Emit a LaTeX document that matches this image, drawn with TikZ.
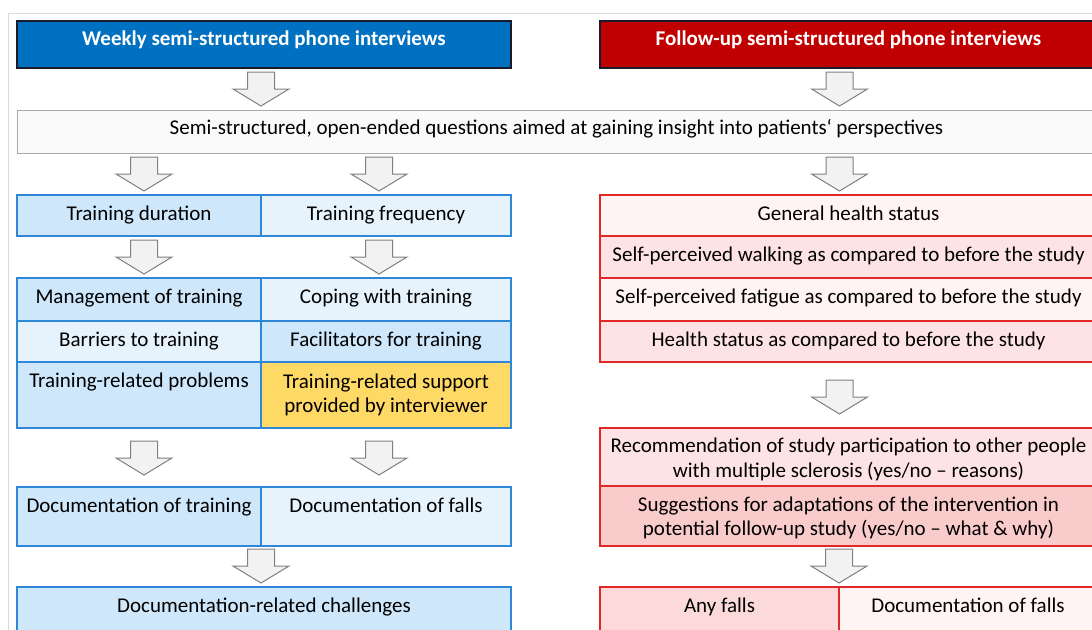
\documentclass[tikz,border=0pt]{standalone}
\usepackage{fontspec}
\setmainfont{Carlito}
\usetikzlibrary{calc}

\definecolor{hdblue}{HTML}{0070C0}
\definecolor{hdred}{HTML}{C00000}
\definecolor{hdline}{HTML}{1A1A2A}
\definecolor{blueln}{HTML}{2F87D8}
\definecolor{bA}{HTML}{CFE7FA}
\definecolor{bB}{HTML}{E6F3FD}
\definecolor{yel}{HTML}{FFD966}
\definecolor{redln}{HTML}{E02828}
\definecolor{rA}{HTML}{FFF3F3}
\definecolor{rB}{HTML}{FDE3E3}
\definecolor{rC}{HTML}{F9CBCB}
\definecolor{rD}{HTML}{FCDADA}
\definecolor{semiln}{HTML}{ABABAB}
\definecolor{semifill}{HTML}{FAFAFA}
\definecolor{arrowln}{HTML}{808080}
\definecolor{arrowfill}{HTML}{F2F2F2}
\definecolor{framec}{HTML}{DADADA}

% one rectangular cell; #9 is the drop from its top edge to the last baseline
\newcommand\mkcell[9]{%
  \node[#1, fill=#7, minimum width={(#5)-(#3)}, minimum height={(#6)-(#4)}] (#2) at (#3,#4) {};
  \node[txt] (#2-t) at ($(#2.north)+(0,#9)$) {#8};}

\begin{document}
\begin{tikzpicture}[x=1pt,y=-1pt,
  txt/.style={font=\fontsize{21}{24.5}\selectfont, text=black, inner sep=0pt, align=center, anchor=base},
  hdtxt/.style={txt, font=\fontsize{21}{24.5}\selectfont\bfseries, text=white},
  cell/.style={draw, line width=1.2pt, anchor=north west, inner sep=0pt, outer sep=0pt},
  bcell/.style={cell, draw=blueln},
  rcell/.style={cell, draw=redln},
  hcell/.style={cell, draw=hdline, line width=1.4pt},
  scell/.style={cell, draw=semiln, line width=1pt},
  arrowst/.style={draw=arrowln, fill=arrowfill, line width=1pt, line join=miter},
  pics/blockdown/.style={code={%
    \draw[arrowst] (-13.5,-17) -- (13.5,-17) -- (13.5,0) -- (28,0) -- (0,17)
      -- (-28,0) -- (-13.5,0) -- cycle;}}]
\useasboundingbox (0,0) rectangle (1092,629);
\clip (0,0) rectangle (1092,629);
\fill[white] (0,0) rectangle (1092,629);

% outer frame
\draw[framec, line width=1pt] (8.5,700) -- (8.5,13.5) -- (1200,13.5);

% headers
\mkcell{hcell}{whead}{17}{21}{511}{68}{hdblue}{}{25}
\node[hdtxt] (whead-l) at ($(whead.north)+(0,24.5)$) {Weekly semi-structured phone interviews};
\mkcell{hcell}{fhead}{600}{21}{1097}{68}{hdred}{}{25}
\node[hdtxt] (fhead-l) at ($(fhead.north)+(0,24.5)$) {Follow-up semi-structured phone interviews};

% shared question box
\mkcell{scell}{semi}{17}{110}{1100}{153}{semifill}{}{25}
\node[txt] (semi-l) at (556.5,134.5) {Semi-structured, open-ended questions aimed at gaining insight into patients‘ perspectives};

% weekly interviews
\mkcell{bcell}{dur}{17}{195}{261}{236}{bA}{Training duration}{25}
\mkcell{bcell}{freq}{261}{195}{511}{236}{bB}{Training frequency}{25}
\mkcell{bcell}{mgmt}{17}{278}{261}{321}{bA}{Management of training}{25}
\mkcell{bcell}{coping}{261}{278}{511}{321}{bB}{Coping with training}{25}
\mkcell{bcell}{barr}{17}{321}{261}{362}{bB}{Barriers to training}{25}
\mkcell{bcell}{facil}{261}{321}{511}{362}{bA}{Facilitators for training}{25}
\mkcell{bcell}{prob}{17}{362}{261}{428}{bA}{Training-related problems}{25.5}
\mkcell{bcell}{supp}{261}{362}{511}{428}{yel}{Training-related support\\provided by interviewer}{50.5}
\mkcell{bcell}{docT}{17}{487}{261}{546}{bA}{Documentation of training}{25.5}
\mkcell{bcell}{docF}{261}{487}{511}{546}{bB}{Documentation of falls}{25.5}
\mkcell{bcell}{docC}{17}{587}{511}{660}{bA}{Documentation-related challenges}{25}

% follow-up interviews
\mkcell{rcell}{genh}{600}{195}{1097}{236}{rA}{General health status}{25}
\mkcell{rcell}{walk}{600}{236}{1097}{278}{rB}{Self-perceived walking as compared to before the study}{25}
\mkcell{rcell}{fatig}{600}{278}{1097}{321}{rA}{Self-perceived fatigue as compared to before the study}{25}
\mkcell{rcell}{hstat}{600}{321}{1097}{362}{rB}{Health status as compared to before the study}{25}
\mkcell{rcell}{recom}{600}{428}{1097}{486}{rB}{Recommendation of study participation to other people\\with multiple sclerosis (yes/no – reasons)}{49}
\mkcell{rcell}{sugg}{600}{486}{1097}{546}{rC}{Suggestions for adaptations of the intervention in\\potential follow-up study (yes/no – what \& why)}{49.5}
\mkcell{rcell}{anyf}{600}{587}{839}{660}{rD}{Any falls}{25}
\mkcell{rcell}{rdocF}{839}{587}{1097}{660}{rA}{Documentation of falls}{25}

% block arrows between the stages
\path (whead.south) ++(-3,21) pic {blockdown};
\path (fhead.south) ++(-9,21) pic {blockdown};
\path (dur.north) ++(5,-21) pic {blockdown};
\path (freq.north) ++(-7,-21) pic {blockdown};
\path (genh.north) ++(-9,-21) pic {blockdown};
\path (mgmt.north) ++(5,-21) pic {blockdown};
\path (coping.north) ++(-7,-21) pic {blockdown};
\path (docT.north) ++(5,-29) pic {blockdown};
\path (docF.north) ++(-7,-29) pic {blockdown};
\path (docC.north) ++(-3,-21) pic {blockdown};
\path (recom.north) ++(-9,-31) pic {blockdown};
\path (anyf.north east) ++(0,-21) pic {blockdown};
\end{tikzpicture}
\end{document}
